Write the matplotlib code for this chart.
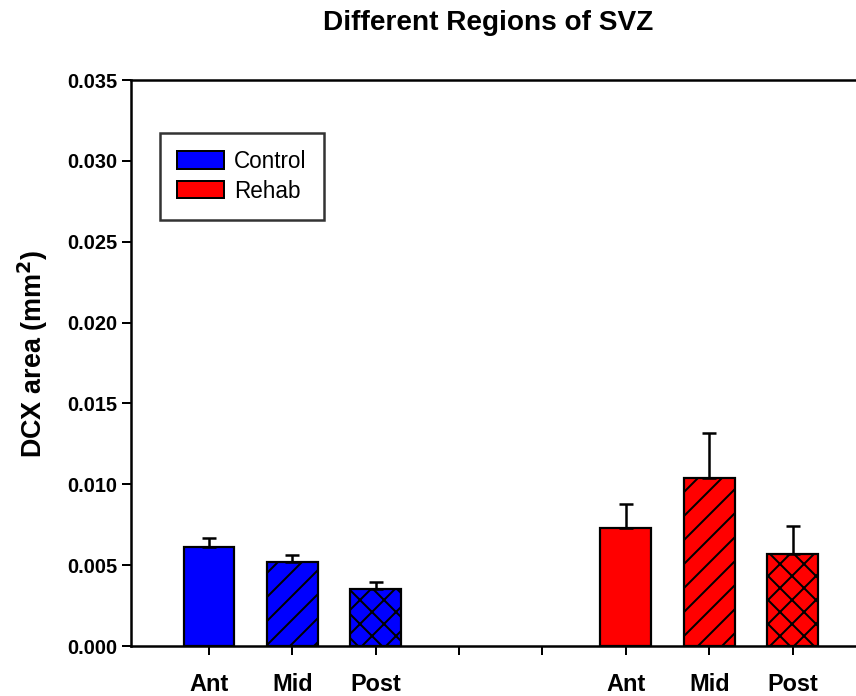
"""
Recreate the DCX area bar chart for different SVZ regions.
Figure drawn at 72 dpi so that 1 pt == 1 px (keeps hatch spacing close to the original).
"""

import matplotlib
matplotlib.use("Agg")
import matplotlib.pyplot as plt
from matplotlib.patches import Patch

plt.rcParams["font.family"] = ["Liberation Sans", "DejaVu Sans"]
plt.rcParams["hatch.linewidth"] = 2.0

# data
regions = ["Ant", "Mid", "Post"]
control_mean = [0.0061, 0.0052, 0.0035]
control_sem = [0.00055, 0.00043, 0.00045]
rehab_mean = [0.0073, 0.0104, 0.0057]
rehab_sem = [0.0015, 0.0028, 0.0017]

control_pos = [1, 2, 3]
rehab_pos = [6, 7, 8]
tick_pos = [1, 2, 3, 4, 5, 6, 7, 8]
tick_labels = ["Ant", "Mid", "Post", "", "", "Ant", "Mid", "Post"]
hatches = ["", "/", "x"]
y_ticks = [0.000, 0.005, 0.010, 0.015, 0.020, 0.025, 0.030, 0.035]

W, H, DPI = 856, 696, 72


def draw_group(ax, positions, means, sems, color) -> None:
    for pos, mean, sem, hatch in zip(positions, means, sems, hatches):
        ax.bar(pos, mean, width=0.61, color=color, edgecolor="black",
               linewidth=2.2, hatch=hatch, zorder=2)
        ax.errorbar(pos, mean, yerr=[[0], [sem]], fmt="none", ecolor="black",
                    elinewidth=2.5, capsize=7, capthick=2.5, zorder=3)


def main() -> None:
    fig = plt.figure(figsize=(W / DPI, H / DPI), dpi=DPI)
    # axes runs past the right edge, as in the cropped original
    ax = fig.add_axes([131 / W, 1 - 646 / H, 770 / W, 566 / H])

    draw_group(ax, control_pos, control_mean, control_sem, "#0000ff")
    draw_group(ax, rehab_pos, rehab_mean, rehab_sem, "#ff0000")

    ax.set_xlim(0.065, 9.3)
    ax.set_ylim(0, 0.035)
    ax.set_xticks(tick_pos)
    ax.set_xticklabels(tick_labels, fontsize=23.5, fontweight="bold")
    ax.set_yticks(y_ticks)
    ax.set_yticklabels([f"{v:.3f}" for v in y_ticks], fontsize=20, fontweight="bold")
    ax.tick_params(axis="both", direction="out", length=9, width=2)
    ax.tick_params(axis="x", pad=18)
    ax.tick_params(axis="y", pad=5)

    for side in ["left", "bottom", "top"]:
        ax.spines[side].set_linewidth(2.5)
    ax.spines["right"].set_visible(False)

    ax.set_ylabel("DCX area (mm$^\\mathbf{2}$)", fontsize=27, fontweight="bold")
    ax.yaxis.set_label_coords(-0.105, 0.516)
    fig.text(488 / W, 1 - 23 / H, "Different Regions of SVZ",
             ha="center", va="center", fontsize=28, fontweight="bold")

    handles = [
        Patch(facecolor="#0000ff", edgecolor="black", linewidth=2, label="Control"),
        Patch(facecolor="#ff0000", edgecolor="black", linewidth=2, label="Rehab"),
    ]
    leg = ax.legend(handles=handles, loc="upper left", bbox_to_anchor=(29 / 770, 1 - 53 / 566),
                    prop={"size": 22.5}, frameon=True, fancybox=False, edgecolor="black",
                    borderpad=0.75, handlelength=2.1, handleheight=0.8, labelspacing=0.3,
                    handletextpad=0.45, borderaxespad=0)
    leg.get_frame().set_linewidth(2.5)

    fig.savefig("out.png", dpi=DPI)
    plt.close(fig)


if __name__ == "__main__":
    main()
